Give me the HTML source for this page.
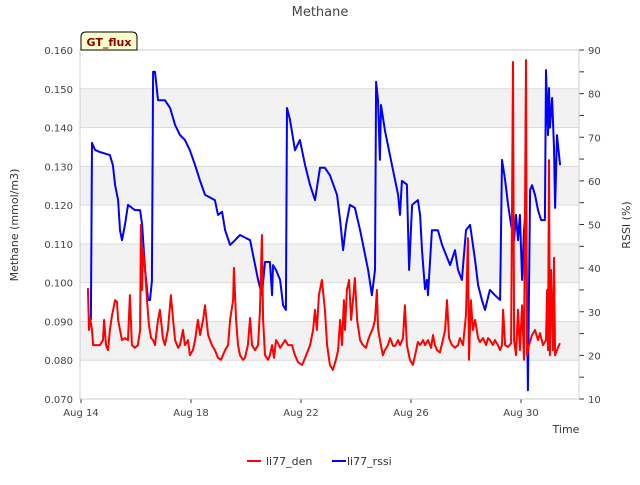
<!DOCTYPE html>
<html><head><meta charset="utf-8"><style>
body{margin:0;background:#fff;font-family:"Liberation Sans","DejaVu Sans",sans-serif;}
svg text{font-family:"DejaVu Sans","Liberation Sans",sans-serif;}
</style></head><body>
<svg id="chart" width="640" height="480" viewBox="0 0 640 480">
<text x="320" y="16" font-size="13" fill="#444" text-anchor="middle">Methane</text>
<g id="grid"></g>
<g id="axes"></g>
<g id="series"></g>
<g>
<path d="M81,50 L81,37 Q81,32 86,32 L132,32 Q137,32 137,37 L137,50 Z" fill="#ffffcc" stroke="#000" stroke-width="1"/>
<text x="109" y="46" font-size="11" font-weight="bold" fill="#8b0000" text-anchor="middle">GT_flux</text>
</g>
<text transform="translate(18,225) rotate(-90)" font-size="11" fill="#333" text-anchor="middle">Methane (mmol/m3)</text>
<text transform="translate(630,225) rotate(-90)" font-size="11" fill="#333" text-anchor="middle">RSSI (%)</text>
<text x="566" y="433" font-size="11" fill="#333" text-anchor="middle">Time</text>
<g>
<g><line x1="247" y1="461" x2="261" y2="461" stroke="#f00" stroke-width="2"/><text x="266" y="465" font-size="11" fill="#333">li77_den</text></g>
<g><line x1="332" y1="461" x2="346" y2="461" stroke="#00f" stroke-width="2"/><text x="347" y="465" font-size="11" fill="#333">li77_rssi</text></g>
</g>
</svg>
<script>
const xTickLabels=["Aug 14","Aug 18","Aug 22","Aug 26","Aug 30"];
const xTickDays=[0,4,8,12,16];
const yTicks=[0.07,0.08,0.09,0.10,0.11,0.12,0.13,0.14,0.15,0.16];
const y2Ticks=[10,20,30,40,50,60,70,80,90];
const denDays=[0.25,0.29,0.33,0.40,0.44,0.69,0.80,0.84,0.91,0.98,1.05,1.13,1.24,1.31,1.35,1.42,1.49,1.60,1.71,1.78,1.85,1.96,2.07,2.15,2.18,2.22,2.25,2.33,2.40,2.47,2.55,2.62,2.69,2.80,2.87,2.98,3.05,3.16,3.27,3.35,3.42,3.53,3.60,3.71,3.78,3.89,3.96,4.07,4.15,4.25,4.33,4.44,4.51,4.62,4.76,4.87,4.98,5.09,5.24,5.35,5.42,5.53,5.56,5.64,5.71,5.78,5.89,5.96,6.07,6.15,6.22,6.33,6.44,6.51,6.58,6.62,6.69,6.80,6.87,6.95,7.02,7.09,7.16,7.24,7.31,7.42,7.53,7.67,7.78,7.89,8.04,8.15,8.33,8.44,8.51,8.58,8.65,8.76,8.87,8.95,9.05,9.16,9.27,9.35,9.42,9.49,9.56,9.60,9.67,9.75,9.82,9.89,9.96,10.04,10.15,10.25,10.36,10.44,10.51,10.62,10.69,10.76,10.80,10.87,10.98,11.05,11.16,11.24,11.35,11.42,11.53,11.60,11.71,11.78,11.85,11.96,12.07,12.15,12.25,12.33,12.44,12.51,12.62,12.73,12.80,12.87,12.95,13.05,13.16,13.24,13.31,13.38,13.49,13.60,13.71,13.78,13.89,14.00,14.07,14.11,14.18,14.25,14.33,14.44,14.51,14.62,14.73,14.80,14.87,14.98,15.05,15.16,15.24,15.31,15.35,15.42,15.53,15.64,15.71,15.75,15.82,15.89,15.96,16.04,16.11,16.18,16.22,16.29,16.40,16.51,16.62,16.69,16.80,16.91,16.95,16.98,17.02,17.05,17.09,17.16,17.20,17.24,17.31,17.38,17.42];
const denValues=[0.0986,0.0878,0.0909,0.0878,0.0839,0.0839,0.0852,0.0904,0.0839,0.0826,0.0878,0.0917,0.0955,0.0950,0.0904,0.0878,0.0852,0.0857,0.0852,0.0968,0.0839,0.0832,0.0839,0.0878,0.1149,0.0981,0.1089,0.1033,0.0955,0.0891,0.0857,0.0852,0.0839,0.0904,0.0930,0.0857,0.0839,0.0878,0.0968,0.0904,0.0852,0.0832,0.0839,0.0878,0.0839,0.0852,0.0813,0.0826,0.0852,0.0904,0.0865,0.0904,0.0942,0.0865,0.0839,0.0826,0.0806,0.0801,0.0826,0.0839,0.0904,0.0955,0.1038,0.0904,0.0839,0.0813,0.0801,0.0806,0.0839,0.0909,0.0839,0.0826,0.0839,0.0930,0.1123,0.0904,0.0813,0.0801,0.0813,0.0839,0.0806,0.0852,0.0844,0.0832,0.0839,0.0852,0.0839,0.0839,0.0813,0.0795,0.0788,0.0806,0.0839,0.0878,0.0930,0.0878,0.0968,0.1007,0.0930,0.0839,0.0788,0.0775,0.0801,0.0826,0.0904,0.0839,0.0955,0.0878,0.0981,0.1007,0.0904,0.0955,0.1012,0.0904,0.0852,0.0839,0.0832,0.0852,0.0865,0.0883,0.0904,0.0981,0.0883,0.0852,0.0813,0.0826,0.0839,0.0857,0.0837,0.0837,0.0852,0.0839,0.0857,0.0942,0.0839,0.0801,0.0788,0.0813,0.0847,0.0839,0.0852,0.0839,0.0852,0.0832,0.0865,0.0839,0.0826,0.0820,0.0852,0.0878,0.0955,0.0857,0.0839,0.0832,0.0839,0.0857,0.0839,0.0917,0.1115,0.0801,0.0955,0.0878,0.0904,0.0857,0.0847,0.0857,0.0839,0.0857,0.0852,0.0839,0.0852,0.0839,0.0826,0.0839,0.0930,0.0839,0.0834,0.0844,0.1569,0.0852,0.0813,0.0930,0.0826,0.0942,0.0801,0.1574,0.0813,0.0839,0.0865,0.0878,0.0852,0.0870,0.0839,0.0852,0.0981,0.0826,0.1316,0.0813,0.1033,0.0826,0.1064,0.0813,0.0826,0.0839,0.0844];
const rssiDays=[0.36,0.40,0.51,0.69,1.05,1.16,1.24,1.35,1.42,1.49,1.60,1.71,1.96,2.15,2.22,2.33,2.44,2.51,2.58,2.62,2.69,2.80,3.05,3.24,3.42,3.60,3.78,3.96,4.15,4.33,4.51,4.87,4.98,5.13,5.24,5.42,5.60,5.78,6.15,6.33,6.44,6.58,6.69,6.87,6.95,6.98,7.09,7.24,7.35,7.45,7.49,7.60,7.78,7.96,8.15,8.33,8.51,8.69,8.87,9.05,9.31,9.42,9.53,9.64,9.78,9.96,10.15,10.33,10.44,10.58,10.69,10.73,10.80,10.87,10.91,11.05,11.31,11.53,11.60,11.67,11.85,11.93,12.04,12.25,12.33,12.40,12.51,12.58,12.62,12.76,12.98,13.13,13.42,13.60,13.71,13.85,14.00,14.15,14.33,14.44,14.58,14.69,14.87,15.05,15.24,15.31,15.42,15.53,15.64,15.75,15.82,15.89,15.96,16.04,16.11,16.18,16.25,16.33,16.40,16.51,16.62,16.73,16.87,16.91,16.98,17.02,17.05,17.13,17.20,17.24,17.31,17.38,17.42];
const rssiValues=[28.1,68.7,67.1,66.6,65.9,63.6,59.0,55.6,48.7,46.4,50.0,54.5,53.3,53.3,50.0,39.6,32.7,32.7,37.0,85.0,85.0,78.5,78.5,76.7,72.8,70.5,69.4,67.0,63.6,60.0,56.8,55.6,52.2,52.9,48.7,45.3,46.4,47.6,46.4,40.7,37.3,33.8,41.4,41.4,33.8,40.7,39.6,37.3,31.5,30.4,76.7,74.0,67.0,69.4,63.6,59.0,55.6,63.0,63.0,61.3,56.8,51.0,44.1,49.9,54.5,53.8,48.7,43.0,39.6,33.8,39.6,82.7,78.5,64.8,77.4,71.6,63.6,56.8,52.2,60.0,59.2,39.6,54.5,55.6,52.2,44.1,35.2,37.3,33.8,48.7,48.7,45.3,40.7,44.1,39.6,37.3,48.7,49.9,41.8,36.1,32.7,30.4,35.0,33.8,32.7,64.8,60.2,54.5,49.9,46.4,52.2,46.4,52.2,37.3,48.7,54.5,12.0,57.9,59.0,56.8,53.3,51.0,51.0,85.4,70.5,81.3,72.2,79.0,67.6,53.8,70.5,66.0,63.6];

const NS="http://www.w3.org/2000/svg";
const L=80,R=579,T=50,B=399;
const xs=d=>81+d*27.5;
const ys=v=>B-(v-0.07)/0.09*(B-T);
const y2s=v=>B-(v-10)/80*(B-T);
function mk(tag,attrs,parent){const e=document.createElementNS(NS,tag);for(const k in attrs)e.setAttribute(k,attrs[k]);parent.appendChild(e);return e;}
const grid=document.getElementById('grid'),axes=document.getElementById('axes'),series=document.getElementById('series');
mk('rect',{x:L,y:T,width:R-L,height:B-T,fill:'#fff'},grid);
for(let i=0;i<yTicks.length-1;i++){
  if(i%2===1){const r=mk('rect',{x:L,y:ys(yTicks[i+1]),width:R-L,height:ys(yTicks[i])-ys(yTicks[i+1]),fill:'#f2f2f2'},grid);
  
  }
}
yTicks.forEach(v=>{
  const y=ys(v);
  mk('line',{x1:L,x2:R,y1:y,y2:y,stroke:'#dcdcdc','stroke-width':1},grid);
  const t=mk('text',{x:L-7,y:y+4,'font-size':10,fill:'#444','text-anchor':'end'},axes);
  t.textContent=v.toFixed(3);
  
  
});
y2Ticks.forEach(v=>{
  const y=y2s(v);
  mk('line',{x1:R,x2:R+5,y1:y,y2:y,stroke:'#333'},axes);
  if(v<90){const ym=y2s(v+5);mk('line',{x1:R,x2:R+5,y1:ym,y2:ym,stroke:'#333'},axes);}
  const t=mk('text',{x:R+9,y:y+4,'font-size':10,fill:'#444'},axes);
  t.textContent=v;
  
  
});
xTickDays.forEach((d,i)=>{
  const x=xs(d);
  mk('line',{x1:x,x2:x,y1:B,y2:B+4,stroke:'#333'},axes);
  const t=mk('text',{x:x,y:B+17,'font-size':10,fill:'#444','text-anchor':'middle'},axes);
  t.textContent=xTickLabels[i];
  
  
});
mk('rect',{x:L,y:T,width:R-L,height:B-T,fill:'none',stroke:'#ccc'},axes);
const pb=rssiDays.map((d,i)=>xs(d).toFixed(1)+','+y2s(rssiValues[i]).toFixed(1)).join(' ');
const lb=mk('polyline',{points:pb,fill:'none',stroke:'#0000ff','stroke-width':2,'stroke-linejoin':'round'},series);


const pr=denDays.map((d,i)=>xs(d).toFixed(1)+','+ys(denValues[i]).toFixed(1)).join(' ');
const lr=mk('polyline',{points:pr,fill:'none',stroke:'#ff0000','stroke-width':2,'stroke-linejoin':'round'},series);


</script>
</body></html>
